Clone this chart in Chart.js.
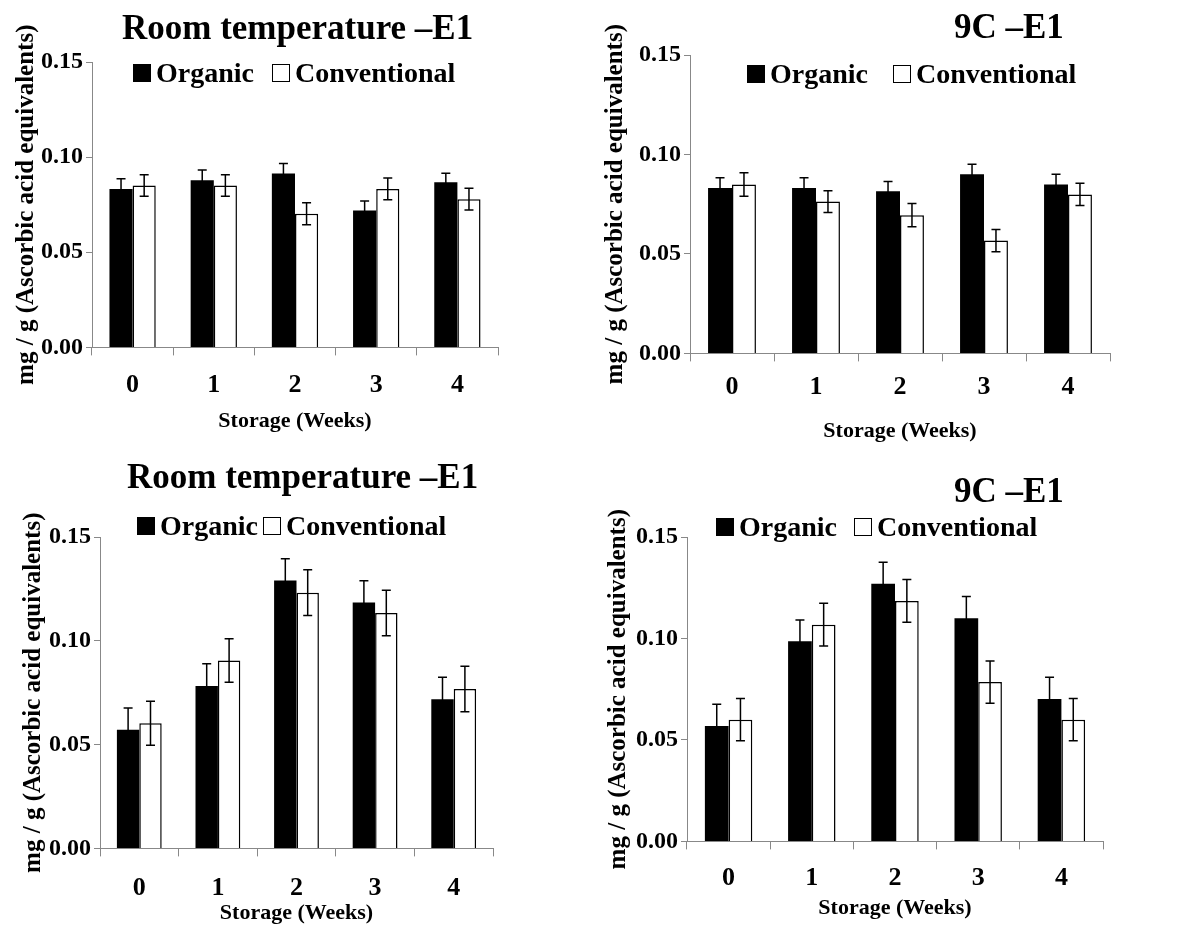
<!DOCTYPE html>
<html>
<head>
<meta charset="utf-8">
<script src="https://cdn.jsdelivr.net/npm/chart.js@4.4.1/dist/chart.umd.min.js"></script>
<style>
  body { margin: 0; background: #fff; width: 1184px; height: 948px; position: relative; overflow: hidden;
         font-family: "Liberation Serif", "Times New Roman", serif; font-weight: bold; color: #000; }
  .panel { position: absolute; }
  .panel canvas { position: absolute; left: 0; top: 0; }
  .title { position: absolute; font-size: 35px; line-height: 1; white-space: nowrap; }
  .legend { position: absolute; font-size: 28px; line-height: 1; white-space: nowrap; display: flex; align-items: center; }
  .legend .item { display: flex; align-items: center; }
  .legend .box { display: inline-block; width: 18px; height: 18px; box-sizing: border-box; border: 1.5px solid #000; }
</style>
</head>
<body>

<div class="panel" style="left:0;top:0"><canvas id="c1" width="592" height="440"></canvas></div>
<div class="panel" style="left:592px;top:0"><canvas id="c2" width="592" height="450"></canvas></div>
<div class="panel" style="left:0;top:440px"><canvas id="c3" width="592" height="508"></canvas></div>
<div class="panel" style="left:592px;top:440px"><canvas id="c4" width="592" height="508"></canvas></div>

<div class="title" id="t1" style="left:122px;top:10px"></div>
<div class="title" id="t2" style="left:954px;top:9px"></div>
<div class="title" id="t3" style="left:127px;top:459px"></div>
<div class="title" id="t4" style="left:954px;top:473px"></div>

<div class="legend" id="l1" style="left:133px;top:59px"></div>
<div class="legend" id="l2" style="left:747px;top:60px"></div>
<div class="legend" id="l3" style="left:137px;top:512px"></div>
<div class="legend" id="l4" style="left:716px;top:513px"></div>

<script>
const weeks = ['0', '1', '2', '3', '4'];
const yTickValues = [0, 0.05, 0.10, 0.15];
const seriesNames = ['Organic', 'Conventional'];
const xTitle = 'Storage (Weeks)';
const yTitle = 'mg / g (Ascorbic acid equivalents)';

// top row
const titleTopLeft = 'Room temperature –E1';
const topLeftOrganic = [0.0833, 0.0879, 0.0914, 0.0720, 0.0868];
const topLeftOrganicErr = [0.0053, 0.0053, 0.0053, 0.0050, 0.0047];
const topLeftConv = [0.0851, 0.0851, 0.0702, 0.0833, 0.0779];
const topLeftConvErr = [0.0057, 0.0057, 0.0058, 0.0057, 0.0057];

const titleTopRight = '9C –E1';
const topRightOrganic = [0.0832, 0.0832, 0.0815, 0.0900, 0.0849];
const topRightOrganicErr = [0.0051, 0.0051, 0.0049, 0.0051, 0.0051];
const topRightConv = [0.0849, 0.0763, 0.0695, 0.0567, 0.0799];
const topRightConvErr = [0.0059, 0.0055, 0.0058, 0.0056, 0.0056];

// bottom row
const titleBottomLeft = 'Room temperature –E1';
const bottomLeftOrganic = [0.0571, 0.0782, 0.1290, 0.1184, 0.0719];
const bottomLeftOrganicErr = [0.0105, 0.0107, 0.0105, 0.0105, 0.0105];
const bottomLeftConv = [0.0603, 0.0905, 0.1232, 0.1134, 0.0768];
const bottomLeftConvErr = [0.0106, 0.0105, 0.0110, 0.0110, 0.0110];

const titleBottomRight = '9C –E1';
const bottomRightOrganic = [0.0569, 0.0986, 0.1270, 0.1100, 0.0702];
const bottomRightOrganicErr = [0.0107, 0.0105, 0.0105, 0.0107, 0.0107];
const bottomRightConv = [0.0600, 0.1068, 0.1185, 0.0785, 0.0600];
const bottomRightConvErr = [0.0104, 0.0105, 0.0105, 0.0104, 0.0104];

const axisGrey = '#888888';
const fontFamily = '"Liberation Serif", "Times New Roman", serif';

// draws mean +/- error whiskers on each bar
const errorBars = {
  id: 'errorBars',
  afterDatasetsDraw(chart) {
    const ctx = chart.ctx;
    const yScale = chart.scales.y;
    ctx.save();
    ctx.strokeStyle = '#000';
    ctx.lineWidth = 1.5;
    chart.data.datasets.forEach((ds, i) => {
      chart.getDatasetMeta(i).data.forEach((bar, j) => {
        const v = ds.data[j];
        const e = ds.errors[j];
        const top = yScale.getPixelForValue(v + e);
        const bot = yScale.getPixelForValue(v - e);
        const x = bar.x;
        ctx.beginPath();
        ctx.moveTo(x, top); ctx.lineTo(x, bot);
        ctx.moveTo(x - 4.5, top); ctx.lineTo(x + 4.5, top);
        ctx.moveTo(x - 4.5, bot); ctx.lineTo(x + 4.5, bot);
        ctx.stroke();
      });
    });
    ctx.restore();
  }
};

function makeChart(canvasId, organic, organicErr, conv, convErr, pad, ax) {
  return new Chart(document.getElementById(canvasId), {
    type: 'bar',
    data: {
      labels: weeks,
      datasets: [
        { label: seriesNames[0], data: organic, errors: organicErr,
          backgroundColor: '#000000', borderColor: '#000000', borderWidth: 0 },
        { label: seriesNames[1], data: conv, errors: convErr,
          backgroundColor: '#ffffff', borderColor: '#000000', borderWidth: 1.5 }
      ]
    },
    options: {
      responsive: false,
      animation: false,
      events: [],
      categoryPercentage: 0.57,
      barPercentage: 1.0,
      layout: { padding: pad },
      plugins: { legend: { display: false }, tooltip: { enabled: false }, title: { display: false } },
      scales: {
        x: {
          grid: { drawOnChartArea: false, color: axisGrey, tickLength: 8, offset: true },
          border: { color: axisGrey, width: 1 },
          ticks: { color: '#000', padding: ax.xTickPad, font: { family: fontFamily, size: 26, weight: 'bold' } },
          title: { display: true, text: xTitle, color: '#000', padding: { top: ax.xTitlePad, bottom: 0 },
                   font: { family: fontFamily, size: 22, weight: 'bold' } }
        },
        y: {
          min: 0, max: 0.15,
          afterBuildTicks: (axis) => { axis.ticks = yTickValues.map(v => ({ value: v })); },
          grid: { drawOnChartArea: false, color: axisGrey, tickLength: 6 },
          border: { color: axisGrey, width: 1 },
          ticks: { color: '#000', padding: 3, callback: (v) => Number(v).toFixed(2),
                   font: { family: fontFamily, size: 24, weight: 'bold' } },
          title: { display: true, text: yTitle, color: '#000', padding: { top: 0, bottom: ax.yTitlePad },
                   font: { family: fontFamily, size: 25, weight: 'bold' } }
        }
      }
    },
    plugins: [errorBars]
  });
}

function htmlLegend(chart, elId, gap) {
  const el = document.getElementById(elId);
  chart.data.datasets.forEach((ds, i) => {
    const item = document.createElement('span');
    item.className = 'item';
    if (i > 0) item.style.marginLeft = gap + 'px';
    const box = document.createElement('span');
    box.className = 'box';
    box.style.background = ds.backgroundColor;
    box.style.marginRight = '5px';
    item.appendChild(box);
    item.appendChild(document.createTextNode(ds.label));
    el.appendChild(item);
  });
}

const c1 = makeChart('c1', topLeftOrganic, topLeftOrganicErr, topLeftConv, topLeftConvErr,
  { left: 12, right: 94, top: 62, bottom: 5 }, { xTickPad: 14, xTitlePad: -6, yTitlePad: -4 });
const c2 = makeChart('c2', topRightOrganic, topRightOrganicErr, topRightConv, topRightConvErr,
  { left: 9, right: 74, top: 55, bottom: 5 }, { xTickPad: 10, xTitlePad: 6, yTitlePad: 5 });
const c3 = makeChart('c3', bottomLeftOrganic, bottomLeftOrganicErr, bottomLeftConv, bottomLeftConvErr,
  { left: 19, right: 99, top: 97, bottom: 21 }, { xTickPad: 16, xTitlePad: -19, yTitlePad: -3 });
const c4 = makeChart('c4', bottomRightOrganic, bottomRightOrganicErr, bottomRightConv, bottomRightConvErr,
  { left: 12, right: 81, top: 97, bottom: 26 }, { xTickPad: 13, xTitlePad: -11, yTitlePad: -1 });

document.getElementById('t1').textContent = titleTopLeft;
document.getElementById('t2').textContent = titleTopRight;
document.getElementById('t3').textContent = titleBottomLeft;
document.getElementById('t4').textContent = titleBottomRight;

htmlLegend(c1, 'l1', 18);
htmlLegend(c2, 'l2', 25);
htmlLegend(c3, 'l3', 5);
htmlLegend(c4, 'l4', 17);
</script>
</body>
</html>
